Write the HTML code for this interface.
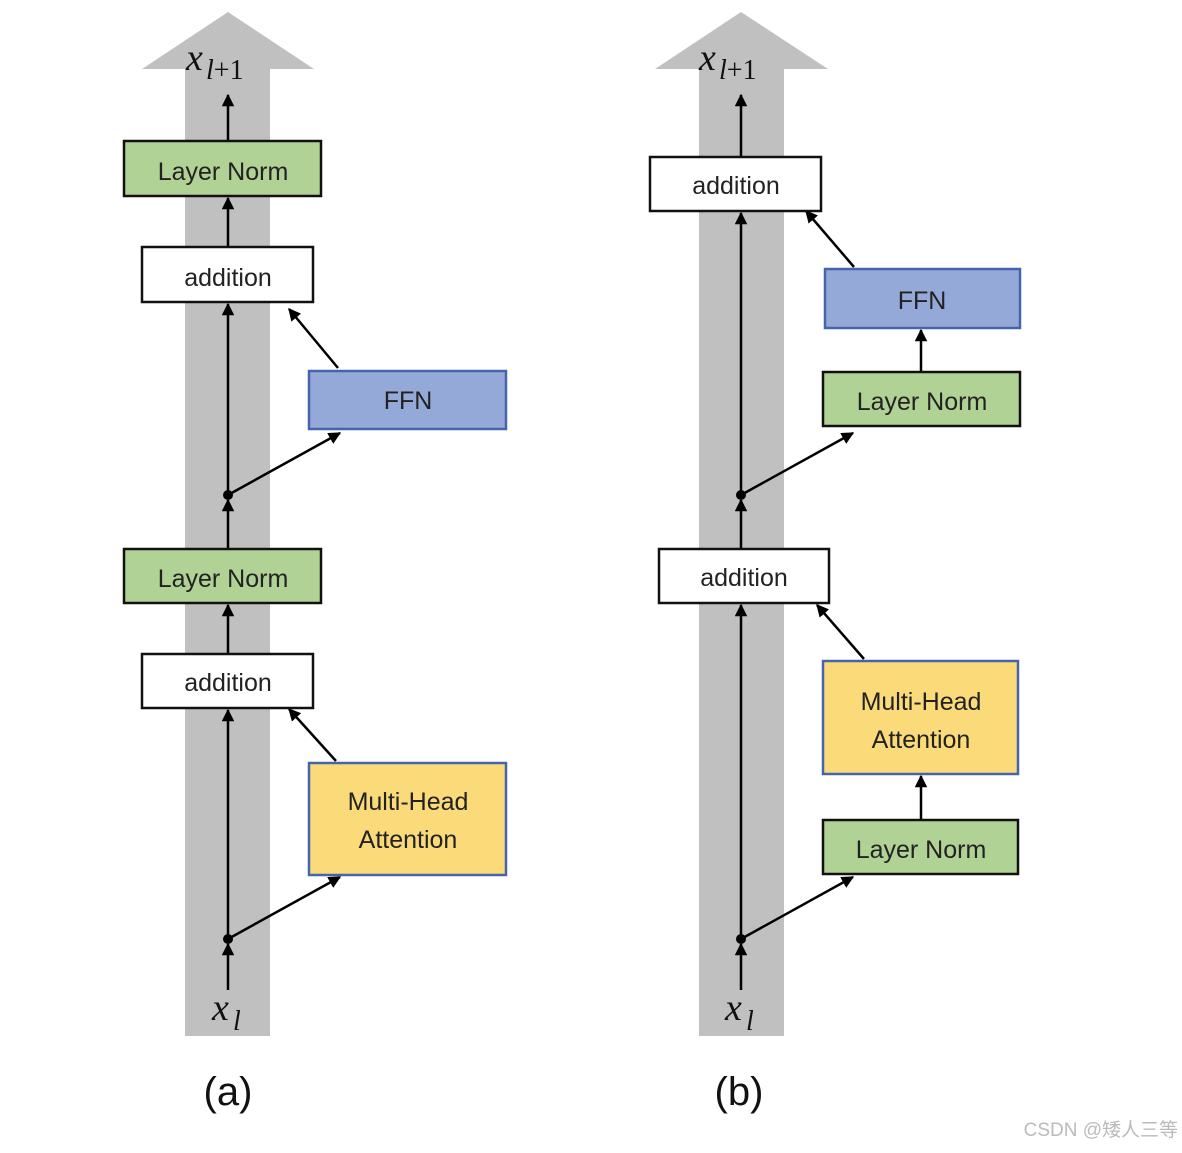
<!DOCTYPE html>
<html><head><meta charset="utf-8"><style>
html,body{margin:0;padding:0;background:#fff;}
svg text{font-family:"Liberation Sans",sans-serif;}
</style></head><body>
<svg width="1182" height="1148" viewBox="0 0 1182 1148" xmlns="http://www.w3.org/2000/svg">
<defs>
<marker id="ah" viewBox="0 0 10 10" refX="9" refY="5" markerWidth="5" markerHeight="5" orient="auto"><path d="M0,0 L10,5 L0,10 z" fill="#000"/></marker>
</defs>
<!-- gray columns -->
<rect x="185" y="68" width="85" height="968" fill="#c0c0c0"/>
<polygon points="228,12 314,69 142,69" fill="#c0c0c0"/>
<rect x="699" y="68" width="85" height="968" fill="#c0c0c0"/>
<polygon points="741,12 828,69 655,69" fill="#c0c0c0"/>

<g stroke="#000" stroke-width="2.5" fill="none" marker-end="url(#ah)">
<!-- (a) -->
<line x1="228" y1="990" x2="228" y2="944"/>
<line x1="228" y1="939" x2="228" y2="710"/>
<line x1="228" y1="939" x2="340" y2="877"/>
<line x1="336" y1="761" x2="289" y2="709"/>
<line x1="228" y1="654" x2="228" y2="605"/>
<line x1="228" y1="549" x2="228" y2="500"/>
<line x1="228" y1="495" x2="228" y2="304"/>
<line x1="228" y1="495" x2="340" y2="433"/>
<line x1="338" y1="368" x2="289" y2="309"/>
<line x1="228" y1="247" x2="228" y2="198"/>
<line x1="228" y1="141" x2="228" y2="95"/>
<!-- (b) -->
<line x1="741" y1="990" x2="741" y2="944"/>
<line x1="741" y1="939" x2="741" y2="605"/>
<line x1="741" y1="939" x2="853" y2="877"/>
<line x1="921" y1="820" x2="921" y2="776"/>
<line x1="864" y1="659" x2="817" y2="605"/>
<line x1="741" y1="549" x2="741" y2="500"/>
<line x1="741" y1="495" x2="741" y2="213"/>
<line x1="741" y1="495" x2="853" y2="433"/>
<line x1="921" y1="372" x2="921" y2="330"/>
<line x1="854" y1="267" x2="806" y2="211"/>
<line x1="741" y1="157" x2="741" y2="95"/>
</g>
<circle cx="228" cy="495" r="5" fill="#000"/>
<circle cx="228" cy="939" r="5" fill="#000"/>
<circle cx="741" cy="495" r="5" fill="#000"/>
<circle cx="741" cy="939" r="5" fill="#000"/>

<g font-size="25" text-anchor="middle" fill="#222">
<!-- (a) boxes -->
<rect x="124" y="141" width="197" height="55" fill="#b0d295" stroke="#111" stroke-width="2.5"/>
<text x="223" y="180">Layer Norm</text>
<rect x="142" y="247" width="171" height="55" fill="#fff" stroke="#111" stroke-width="2.5"/>
<text x="228" y="286">addition</text>
<rect x="309" y="371" width="197" height="58" fill="#95a9d9" stroke="#4464ad" stroke-width="2.5"/>
<text x="408" y="409">FFN</text>
<rect x="124" y="549" width="197" height="54" fill="#b0d295" stroke="#111" stroke-width="2.5"/>
<text x="223" y="587">Layer Norm</text>
<rect x="142" y="654" width="171" height="54" fill="#fff" stroke="#111" stroke-width="2.5"/>
<text x="228" y="691">addition</text>
<rect x="309" y="763" width="197" height="112" fill="#fbdb79" stroke="#4464ad" stroke-width="2.5"/>
<text x="408" y="810">Multi-Head</text>
<text x="408" y="848">Attention</text>
<!-- (b) boxes -->
<rect x="650" y="157" width="171" height="54" fill="#fff" stroke="#111" stroke-width="2.5"/>
<text x="736" y="194">addition</text>
<rect x="825" y="269" width="195" height="59" fill="#95a9d9" stroke="#4464ad" stroke-width="2.5"/>
<text x="922" y="309">FFN</text>
<rect x="823" y="372" width="197" height="54" fill="#b0d295" stroke="#111" stroke-width="2.5"/>
<text x="922" y="410">Layer Norm</text>
<rect x="659" y="549" width="170" height="54" fill="#fff" stroke="#111" stroke-width="2.5"/>
<text x="744" y="586">addition</text>
<rect x="823" y="661" width="195" height="113" fill="#fbdb79" stroke="#4464ad" stroke-width="2.5"/>
<text x="921" y="710">Multi-Head</text>
<text x="921" y="748">Attention</text>
<rect x="823" y="820" width="195" height="54" fill="#b0d295" stroke="#111" stroke-width="2.5"/>
<text x="921" y="858">Layer Norm</text>
</g>

<g font-family="Liberation Serif,serif" fill="#111">
<text x="186" y="70" font-size="38" font-style="italic" style="font-family:'Liberation Serif',serif">x</text>
<text x="206" y="79" font-size="28" style="font-family:'Liberation Serif',serif"><tspan font-style="italic">l</tspan>+1</text>
<text x="212" y="1020" font-size="38" font-style="italic" style="font-family:'Liberation Serif',serif">x</text>
<text x="233" y="1030" font-size="28" font-style="italic" style="font-family:'Liberation Serif',serif">l</text>
<text x="699" y="70" font-size="38" font-style="italic" style="font-family:'Liberation Serif',serif">x</text>
<text x="719" y="79" font-size="28" style="font-family:'Liberation Serif',serif"><tspan font-style="italic">l</tspan>+1</text>
<text x="725" y="1020" font-size="38" font-style="italic" style="font-family:'Liberation Serif',serif">x</text>
<text x="746" y="1030" font-size="28" font-style="italic" style="font-family:'Liberation Serif',serif">l</text>
</g>
<text x="228" y="1105" font-size="40" text-anchor="middle" fill="#111">(a)</text>
<text x="739" y="1105" font-size="40" text-anchor="middle" fill="#111">(b)</text>
<text x="1178" y="1136" font-size="19" text-anchor="end" fill="#bbb" style="font-family:'Liberation Sans','Noto Sans CJK SC',sans-serif">CSDN @矮人三等</text>
</svg>
</body></html>
